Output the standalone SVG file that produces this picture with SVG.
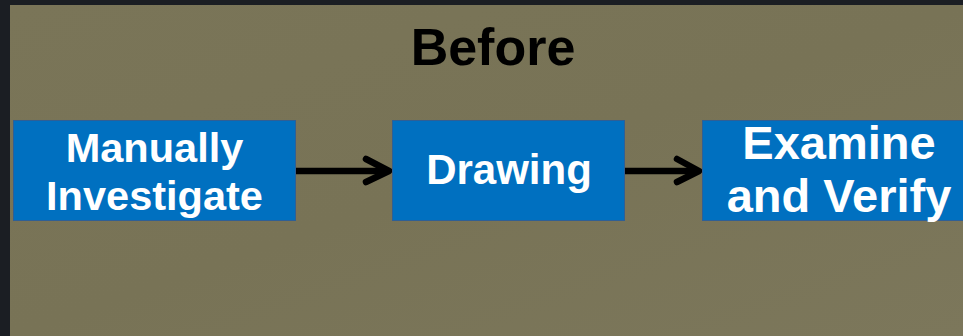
<svg xmlns="http://www.w3.org/2000/svg" width="963" height="336" viewBox="0 0 963 336">
<style>
.box{fill:#0070c0;stroke:#2f5f95;stroke-width:1}
.lbl{font-family:"Liberation Sans",Arial,sans-serif;font-weight:bold;fill:#ffffff;text-anchor:middle}
.title{font-family:"Liberation Sans",Arial,sans-serif;font-weight:bold;fill:#000000;text-anchor:middle;font-size:52px}
.conn{stroke:#000;stroke-width:6.5;fill:none}
.head{stroke:#000;stroke-width:6.5;fill:none;stroke-linecap:round;stroke-linejoin:round}
</style>
<defs>
<linearGradient id="bg" x1="0" y1="0" x2="1" y2="1">
<stop offset="0" stop-color="#7a7558"/>
<stop offset="0.5" stop-color="#787356"/>
<stop offset="1" stop-color="#7c775b"/>
</linearGradient>
</defs>
<rect x="0" y="0" width="963" height="336" fill="#1b1e23"/>
<rect x="10" y="5" width="953" height="331" fill="url(#bg)"/>
<text class="title" x="493" y="65">Before</text>
<g id="connectors">
<line class="conn" x1="296" y1="171" x2="388" y2="171"/>
<polyline class="head" points="366,159 389,171 366,182"/>
<line class="conn" x1="625" y1="171" x2="698" y2="171"/>
<polyline class="head" points="677,159 699,171 677,182"/>
</g>
<g id="manually-investigate">
<rect class="box" x="13.5" y="120.5" width="282" height="100"/>
<text class="lbl" x="154.5" y="161.5" font-size="41.5">Manually</text>
<text class="lbl" x="154.5" y="210" font-size="41.5">Investigate</text>
</g>
<g id="drawing">
<rect class="box" x="392.5" y="120.5" width="232" height="100"/>
<text class="lbl" x="509" y="184" font-size="42">Drawing</text>
</g>
<g id="examine-verify">
<rect class="box" x="702.5" y="120.5" width="290" height="100"/>
<text class="lbl" x="839" y="159" font-size="47">Examine</text>
<text class="lbl" x="839" y="212" font-size="47">and Verify</text>
</g>
</svg>
